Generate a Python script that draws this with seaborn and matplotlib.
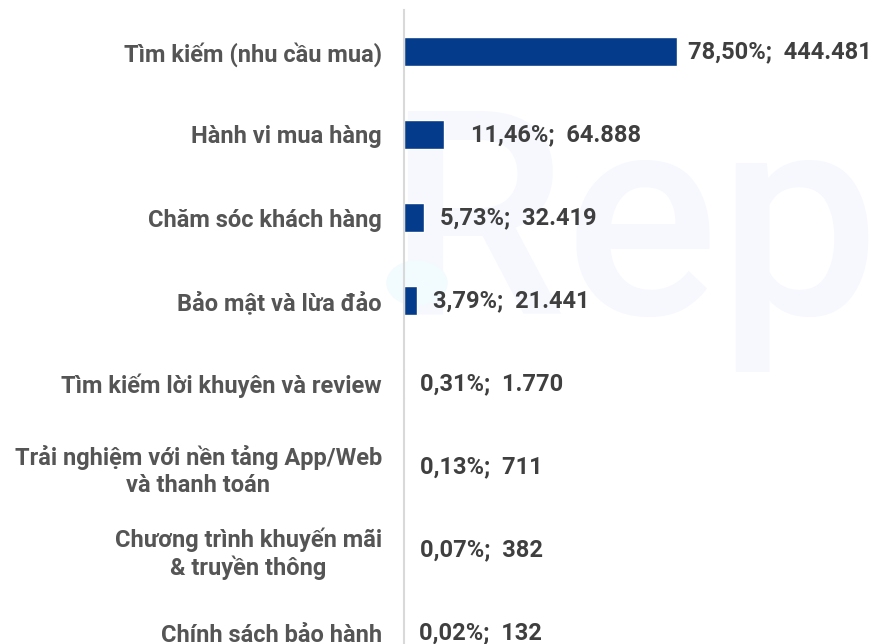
import matplotlib
matplotlib.use("Agg")
import matplotlib.pyplot as plt
import matplotlib.patches as mpatches
import seaborn as sns
import pandas as pd

categories = [
    "Tìm kiếm (nhu cầu mua)",
    "Hành vi mua hàng",
    "Chăm sóc khách hàng",
    "Bảo mật và lừa đảo",
    "Tìm kiếm lời khuyên và review",
    "Trải nghiệm với nền tảng App/Web\nvà thanh toán",
    "Chương trình khuyến mãi\n& truyền thông",
    "Chính sách bảo hành",
]
counts = [444481, 64888, 32419, 21441, 1770, 711, 382, 132]
percents = [78.50, 11.46, 5.73, 3.79, 0.31, 0.13, 0.07, 0.02]

# horizontal gap (in data units) between each bar end and its value label
label_pads = [18000, 44000, 26000, 26000, 24000, 25000, 25000, 25000]

df = pd.DataFrame({"category": categories, "count": counts})

sns.set_theme(style="white")
plt.rcParams["font.family"] = ["Roboto", "DejaVu Sans"]

W, H = 874, 644
fig = plt.figure(figsize=(W / 100, H / 100), dpi=100)
ax_left, ax_top = 404, 10
ax = fig.add_axes([ax_left / W, 0, (W - ax_left) / W, (H - ax_top) / H])
ax.set_zorder(2)

# faint watermark behind the chart
fig.text(386 / W, 1 - 314 / H, "Rep", fontsize=206, fontweight="medium",
         color="#f6f8fe", ha="left", va="baseline", zorder=-2)
fig.patches.append(mpatches.Circle((417 / W, 1 - 283 / H), 30 / W,
                                   transform=fig.transFigure,
                                   color="#f2fbfd", zorder=-1))

ax.set_facecolor("none")
sns.barplot(data=df, x="count", y="category", orient="h", color="#043b8a",
            width=0.35, ax=ax, saturation=1)

px_per_unit = 273 / 444481
ax.set_xlim(0, (W - ax_left) / px_per_unit)
bottom = (H - 51.5) / 83
ax.set_ylim(bottom, -0.5)

for i, (c, p) in enumerate(zip(counts, percents)):
    pct = f"{p:.2f}".replace(".", ",")
    cnt = f"{c:,}".replace(",", ".")
    ax.text(c + label_pads[i], i, f"{pct}%;  {cnt}", va="center", ha="left",
            fontsize=17, fontweight="bold", color="#3f3f3f")

ax.set_xlabel("")
ax.set_ylabel("")
ax.set_xticks([])
ax.tick_params(axis="y", length=0, pad=16)
ax.set_yticks(range(len(categories)))
ax.set_yticklabels(categories, fontsize=17, fontweight="bold", color="#555555",
                   multialignment="center")
for s in ["top", "right", "bottom"]:
    ax.spines[s].set_visible(False)
ax.spines["left"].set_color("#d9d9d9")
ax.spines["left"].set_linewidth(1.5)

fig.savefig("out.png", dpi=100)
